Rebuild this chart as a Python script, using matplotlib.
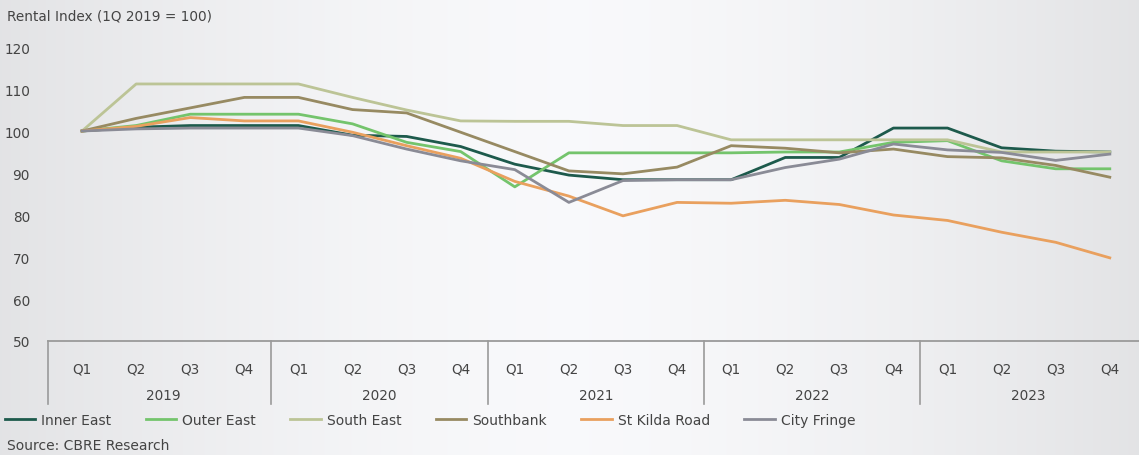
import numpy as np
import matplotlib
matplotlib.use("Agg")
from matplotlib import pyplot as plt
from matplotlib.lines import Line2D
import matplotlib.transforms as mtransforms

# data (index, 1Q 2019 = 100)
quarters = ["Q1", "Q2", "Q3", "Q4"]
years = ["2019", "2020", "2021", "2022", "2023"]

inner_east = [100, 100.9, 101.3, 101.3, 101.3, 99.0, 98.7, 96.3, 92.1, 89.5,
              88.4, 88.4, 88.4, 93.7, 93.7, 100.7, 100.7, 96.0, 95.2, 95.0]
outer_east = [100, 101.3, 104.0, 104.0, 104.0, 101.7, 97.3, 95.1, 86.7, 94.8,
              94.8, 94.8, 94.8, 95.0, 95.0, 97.3, 97.7, 92.9, 91.0, 91.0]
south_east = [100, 111.2, 111.2, 111.2, 111.2, 108.0, 105.0, 102.4, 102.3, 102.3,
              101.3, 101.3, 97.9, 97.9, 97.9, 97.9, 97.9, 95.0, 95.0, 95.0]
southbank = [100, 103.0, 105.5, 108.0, 108.0, 105.1, 104.3, 99.7, 95.1, 90.5,
             89.8, 91.4, 96.5, 95.9, 94.8, 95.7, 93.9, 93.6, 91.8, 89.0]
st_kilda = [100, 101.1, 103.2, 102.4, 102.4, 99.7, 96.5, 93.5, 88.0, 84.5,
            79.8, 83.0, 82.8, 83.5, 82.5, 80.0, 78.7, 75.9, 73.5, 69.8]
city_fringe = [100, 100.5, 100.7, 100.7, 100.7, 98.9, 95.7, 92.9, 90.8, 83.0,
               88.2, 88.4, 88.4, 91.3, 93.3, 96.9, 95.5, 94.9, 93.0, 94.5]

series = [("Inner East", inner_east, "#1d5a4c"),
          ("Outer East", outer_east, "#74c46c"),
          ("South East", south_east, "#bcc496"),
          ("Southbank", southbank, "#978a62"),
          ("St Kilda Road", st_kilda, "#e9a05e"),
          ("City Fringe", city_fringe, "#8a8b96")]

plt.rcParams['font.family'] = ['DejaVu Sans']
txt = "#444444"

W, H = 1139, 456
fig = plt.figure(figsize=(W / 100, H / 100), dpi=100)

# soft grey-white-grey background
bg = fig.add_axes([0, 0, 1, 1], zorder=-10)
xx = np.linspace(-1, 1, 400)
shade = 0.975 - 0.085 * np.abs(xx) ** 1.5
rgb = np.stack([shade, shade + 0.002, shade + 0.01], axis=-1).clip(0, 1)
bg.imshow(np.tile(rgb, (10, 1, 1)), aspect="auto", extent=[0, 1, 0, 1])
bg.axis("off")

left, right = 48, 1139
top, bottom = 48, 342
ax = fig.add_axes([left / W, 1 - bottom / H, (right - left) / W, (bottom - top) / H])
ax.patch.set_alpha(0)

x = np.arange(len(inner_east))
for name, vals, col in series:
    ax.plot(x, vals, color=col, lw=2.0, label=name)

ax.set_xlim(-0.63, 19.54)
ax.set_ylim(50, 120)
ax.set_yticks(range(50, 121, 10))
ax.tick_params(axis="y", length=0, pad=13, labelsize=9.8, labelcolor=txt)

ax.set_xticks(x)
ax.set_xticklabels(quarters * len(years))
ax.tick_params(axis="x", length=0, pad=15, labelsize=9.8, labelcolor=txt)

for s in ["top", "right", "left"]:
    ax.spines[s].set_visible(False)
ax.spines["bottom"].set_color("#9a9a9a")
ax.spines["bottom"].set_linewidth(1.3)

# year groups below the quarters
trans = mtransforms.blended_transform_factory(ax.transData, ax.transAxes)
sep_len = (405 - bottom) / (bottom - top)
year_y = -(396 - bottom) / (bottom - top)
seps = [ax.get_xlim()[0]] + [3.5 + 4 * k for k in range(4)]
for sx in seps:
    ax.plot([sx, sx], [0, -sep_len], color="#9a9a9a", lw=1.2,
            transform=trans, clip_on=False)
for k, yr in enumerate(years):
    ax.text(4 * k + 1.5, year_y, yr, transform=trans, ha="center", va="center",
            fontsize=9.8, color=txt)

fig.text(7 / W, 1 - 17 / H, "Rental Index (1Q 2019 = 100)", fontsize=9.8,
         color=txt, ha="left", va="center")
fig.text(7 / W, 1 - 446 / H, "Source: CBRE Research", fontsize=10,
         color=txt, ha="left", va="center")

handles = [Line2D([0], [0], color=c, lw=2.0) for _, _, c in series]
labels = [n for n, _, _ in series]
fig.legend(handles, labels, loc="center left", bbox_to_anchor=(0.004, 1 - 421 / H),
           ncol=6, frameon=False, fontsize=10, handlelength=2.2,
           handletextpad=0.45, columnspacing=2.45, borderaxespad=0,
           borderpad=0, labelcolor=txt)

fig.savefig("out.png", dpi=100)
